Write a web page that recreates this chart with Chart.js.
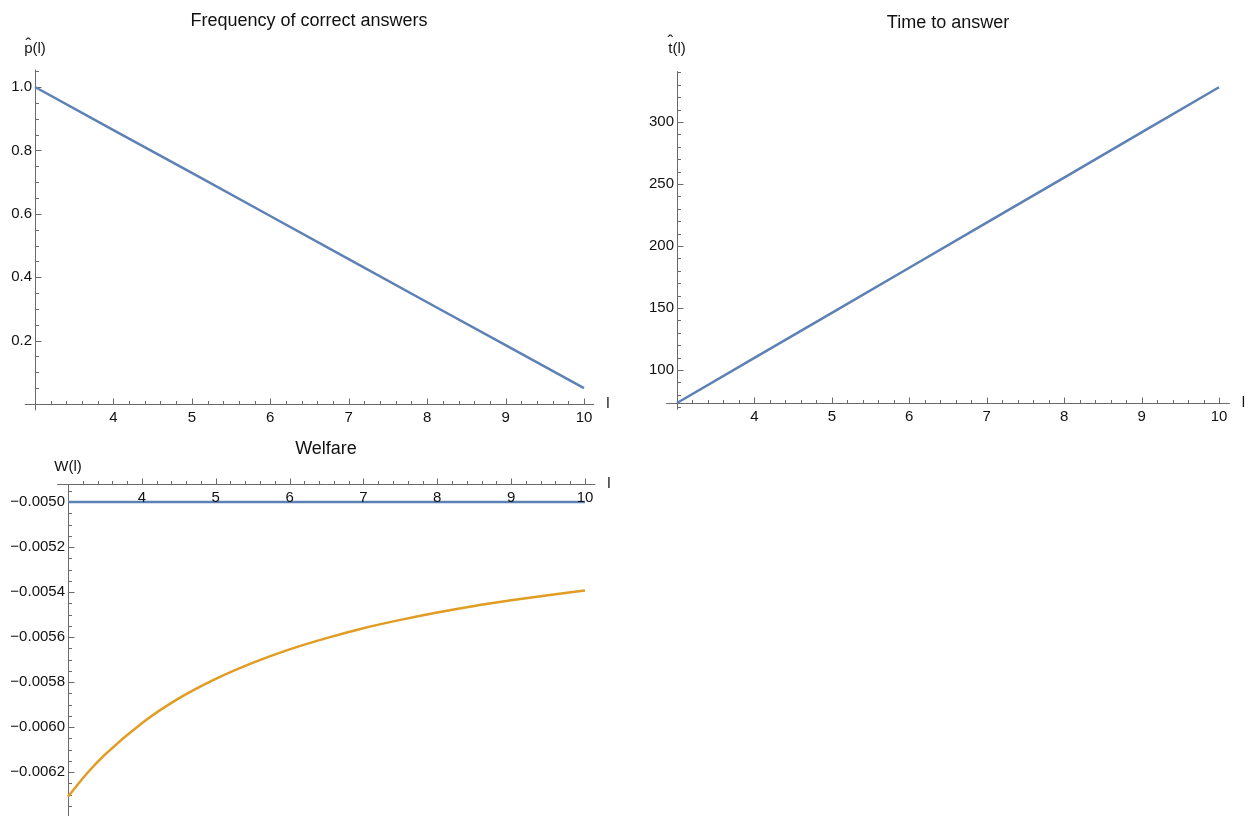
<!DOCTYPE html>
<html>
<head>
<meta charset="utf-8">
<script src="https://cdn.jsdelivr.net/npm/chart.js@4.4.1/dist/chart.umd.min.js"></script>
<style>
  html, body { margin: 0; padding: 0; background: #fff; }
  #wrap { position: relative; width: 1252px; height: 816px; overflow: hidden; }
  canvas { position: absolute; }
</style>
</head>
<body>
<div id="wrap">
  <canvas id="freqChart" width="626" height="435" style="left:0;top:0"></canvas>
  <canvas id="timeChart" width="626" height="435" style="left:626px;top:0"></canvas>
  <canvas id="welfareChart" width="626" height="401" style="left:0;top:415px"></canvas>
</div>
<script>
// data
const lValues = [3, 4, 5, 6, 7, 8, 9, 10];
const pHat = [1.0, 0.864, 0.729, 0.593, 0.457, 0.321, 0.186, 0.05];
const tHat = [73.4, 109.8, 146.1, 182.5, 218.9, 255.2, 291.6, 328];

const lFine = [3, 3.25, 3.5, 4, 4.5, 5, 5.5, 6, 6.5, 7, 7.5, 8, 8.5, 9, 9.5, 10];
const welfareFlat = [-0.005, -0.005, -0.005, -0.005, -0.005, -0.005, -0.005, -0.005,
                     -0.005, -0.005, -0.005, -0.005, -0.005, -0.005, -0.005, -0.005];
const welfareCurve = [-0.006310, -0.006209, -0.006123, -0.005983, -0.005873, -0.005786,
                      -0.005715, -0.005655, -0.005605, -0.005561, -0.005524, -0.005491,
                      -0.005462, -0.005437, -0.005414, -0.005393];

// ticks
const lTicks = [4, 5, 6, 7, 8, 9, 10];
const lTickLabels = ["4", "5", "6", "7", "8", "9", "10"];
const pTicks = [0.2, 0.4, 0.6, 0.8, 1.0];
const pTickLabels = ["0.2", "0.4", "0.6", "0.8", "1.0"];
const tTicks = [100, 150, 200, 250, 300];
const tTickLabels = ["100", "150", "200", "250", "300"];
const wTicks = [-0.0050, -0.0052, -0.0054, -0.0056, -0.0058, -0.0060, -0.0062];
const wTickLabels = ["\u22120.0050", "\u22120.0052", "\u22120.0054", "\u22120.0056",
                     "\u22120.0058", "\u22120.0060", "\u22120.0062"];

const BLUE = "#5e81b5";
const ORANGE = "#e19c24";
const AXIS = "#6b6b6b";
const TEXT = "#111";
const FONT = "'Liberation Sans', Arial, sans-serif";

function pts(xs, ys) {
  return xs.map((x, i) => ({x: x, y: ys[i]}));
}

function minorList(lo, hi, step, majors, skip) {
  const out = [];
  const a = Math.ceil(lo / step - 1e-6), b = Math.floor(hi / step + 1e-6);
  for (let k = a; k <= b; k++) {
    const v = k * step;
    if (majors.some(m => Math.abs(m - v) < step / 10)) continue;
    if (Math.abs(v - skip) < step / 10) continue;
    out.push(v);
  }
  return out;
}

// Mathematica-like axes drawn through the chart's own scales
const mmaAxes = {
  id: "mmaAxes",
  beforeDatasetsDraw(chart, args, o) {
    const ctx = chart.ctx, xs = chart.scales.x, ys = chart.scales.y;
    const ax = Math.round(xs.getPixelForValue(o.yAxisAt)) + 0.5;
    const ay = Math.round(ys.getPixelForValue(o.xAxisAt)) + 0.5;
    ctx.save();
    ctx.strokeStyle = AXIS;
    ctx.lineWidth = 1;
    ctx.beginPath();
    ctx.moveTo(xs.getPixelForValue(o.xExtent[0]), ay);
    ctx.lineTo(xs.getPixelForValue(o.xExtent[1]), ay);
    ctx.moveTo(ax, ys.getPixelForValue(o.yExtent[0]));
    ctx.lineTo(ax, ys.getPixelForValue(o.yExtent[1]));
    // x ticks point up
    o.xTicks.forEach(v => {
      const px = Math.round(xs.getPixelForValue(v)) + 0.5;
      ctx.moveTo(px, ay); ctx.lineTo(px, ay - 6);
    });
    minorList(o.xExtent[0], o.xExtent[1], o.xMinor, o.xTicks, o.yAxisAt).forEach(v => {
      const px = Math.round(xs.getPixelForValue(v)) + 0.5;
      ctx.moveTo(px, ay); ctx.lineTo(px, ay - 3.5);
    });
    // y ticks point right
    o.yTicks.forEach(v => {
      const py = Math.round(ys.getPixelForValue(v)) + 0.5;
      ctx.moveTo(ax, py); ctx.lineTo(ax + 6, py);
    });
    minorList(Math.min(...o.yExtent), Math.max(...o.yExtent), o.yMinor, o.yTicks, o.xAxisAt).forEach(v => {
      const py = Math.round(ys.getPixelForValue(v)) + 0.5;
      ctx.moveTo(ax, py); ctx.lineTo(ax + 3.5, py);
    });
    ctx.stroke();
    ctx.restore();
  },
  afterDatasetsDraw(chart, args, o) {
    const ctx = chart.ctx, xs = chart.scales.x, ys = chart.scales.y;
    const ax = xs.getPixelForValue(o.yAxisAt);
    const ay = ys.getPixelForValue(o.xAxisAt);
    ctx.save();
    ctx.fillStyle = TEXT;
    ctx.font = "15px " + FONT;
    ctx.textAlign = "center";
    ctx.textBaseline = "middle";
    o.xTicks.forEach((v, i) => ctx.fillText(o.xLabels[i], xs.getPixelForValue(v), ay + 14));
    ctx.textAlign = "right";
    o.yTicks.forEach((v, i) => ctx.fillText(o.yLabels[i], ax - 3, ys.getPixelForValue(v)));
    // axis names
    ctx.textAlign = "left";
    ctx.fillText("l", xs.getPixelForValue(o.xExtent[1]) + 12, ay);
    ctx.textBaseline = "alphabetic";
    const full = o.yName;
    const w = ctx.measureText(full).width;
    const x0 = ax - w / 2 + o.yNameDx;
    ctx.fillText(full, x0, o.yNameY);
    if (o.hat) {
      const cw = ctx.measureText(full[0]).width;
      ctx.textAlign = "center";
      ctx.font = "17px " + FONT;
      ctx.fillText("\u02c6", x0 + cw / 2, o.yNameY - o.hatLift);
    }
    // title
    ctx.font = "18px " + FONT;
    ctx.textAlign = "center";
    ctx.fillText(o.title, o.titleX, o.titleY);
    ctx.restore();
  }
};

function makeChart(id, datasets, xr, yr, padding, axes) {
  return new Chart(document.getElementById(id), {
    type: "line",
    data: {datasets: datasets},
    options: {
      responsive: false,
      animation: false,
      devicePixelRatio: 1,
      layout: {padding: padding},
      scales: {
        x: {type: "linear", min: xr[0], max: xr[1], display: false},
        y: {type: "linear", min: yr[0], max: yr[1], display: false}
      },
      elements: {point: {radius: 0}},
      plugins: {legend: {display: false}, tooltip: {enabled: false}, mmaAxes: axes}
    },
    plugins: [mmaAxes]
  });
}

function lineSet(data, color, curved) {
  return {
    data: data, borderColor: color, borderWidth: 2.5, fill: false, clip: false,
    tension: curved ? 0.4 : 0, cubicInterpolationMode: curved ? "monotone" : "default"
  };
}

makeChart("freqChart",
  [lineSet(pts(lValues, pHat), BLUE, false)],
  [3, 10], [0, 1],
  {left: 35, right: 42, top: 87, bottom: 31},
  {xAxisAt: 0, yAxisAt: 3, xExtent: [2.87, 10.13], yExtent: [-0.02, 1.055],
   xTicks: lTicks, xLabels: lTickLabels, xMinor: 0.2,
   yTicks: pTicks, yLabels: pTickLabels, yMinor: 0.05,
   yName: "p(l)", hat: true, hatLift: 3, yNameDx: 0, yNameY: 53,
   title: "Frequency of correct answers", titleX: 309, titleY: 26});

makeChart("timeChart",
  [lineSet(pts(lValues, tHat), BLUE, false)],
  [3, 10], [73.4, 300],
  {left: 51, right: 33, top: 122, bottom: 32},
  {xAxisAt: 73.4, yAxisAt: 3, xExtent: [2.86, 10.14], yExtent: [68, 341],
   xTicks: lTicks, xLabels: lTickLabels, xMinor: 0.2,
   yTicks: tTicks, yLabels: tTickLabels, yMinor: 10,
   yName: "t(l)", hat: true, hatLift: 6, yNameDx: 0, yNameY: 53,
   title: "Time to answer", titleX: 322, titleY: 28});

makeChart("welfareChart",
  [lineSet(pts(lFine, welfareFlat), BLUE, false),
   lineSet(pts(lFine, welfareCurve), ORANGE, true)],
  [3, 10], [-0.0062, -0.005],
  {left: 68, right: 41, top: 87, bottom: 44},
  {xAxisAt: -0.00492, yAxisAt: 3, xExtent: [2.855, 10.14], yExtent: [-0.0064, -0.00492],
   xTicks: lTicks, xLabels: lTickLabels, xMinor: 0.2,
   yTicks: wTicks, yLabels: wTickLabels, yMinor: 0.00005,
   yName: "W(l)", hat: false, hatLift: 0, yNameDx: 0, yNameY: 56,
   title: "Welfare", titleX: 326, titleY: 39});
</script>
</body>
</html>
